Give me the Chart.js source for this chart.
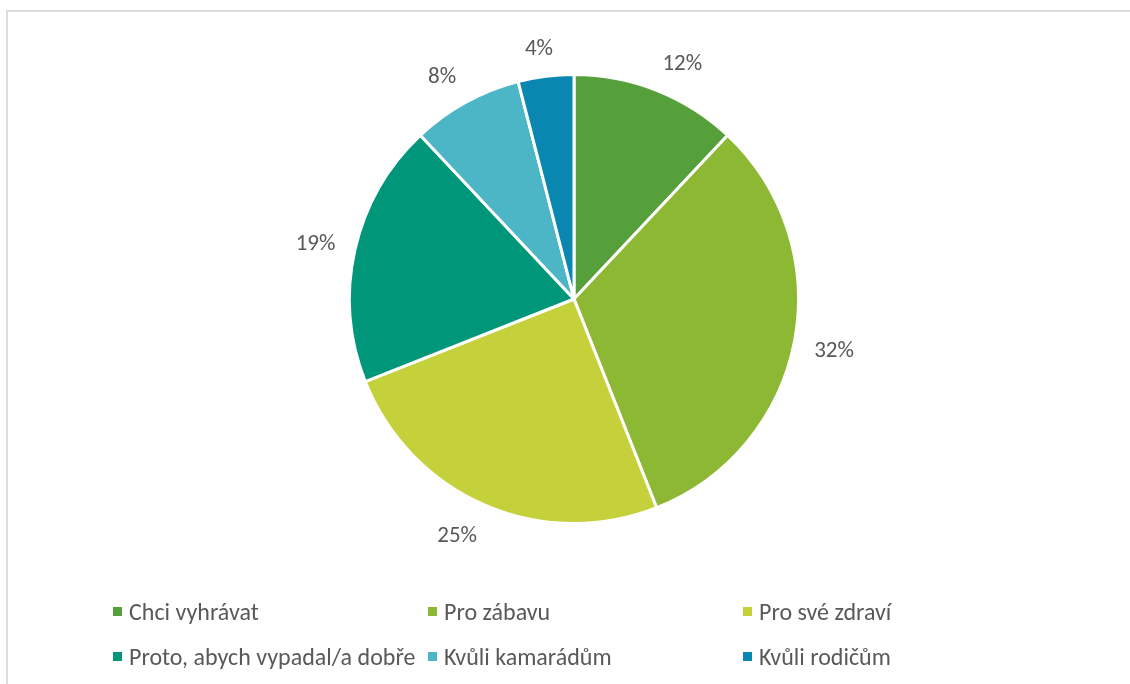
<!DOCTYPE html>
<html>
<head>
<meta charset="utf-8">
<script src="https://cdn.jsdelivr.net/npm/chart.js@4.4.0/dist/chart.umd.min.js"></script>
<style>
  html, body { margin: 0; padding: 0; background: #fff; }
  body { width: 1130px; height: 684px; position: relative; overflow: hidden;
         font-family: Carlito, Calibri, Lato, sans-serif; color: #595959; }
  #frame { position: absolute; left: 6px; top: 10px; right: -10px; bottom: -10px;
           border-left: 2px solid #dcdcdc; border-top: 2px solid #dcdcdc; }
  #wrap { position: absolute; left: 0; top: 0; width: 1130px; height: 684px; }
  #legend { position: absolute; left: 113px; top: 598px;
            display: grid; grid-template-columns: 315px 315px 315px; grid-auto-rows: 45px; }
  .item { display: flex; align-items: center; height: 26px; font-size: 24px; white-space: nowrap; }
  .box { width: 9px; height: 9px; margin-right: 7px; flex: none; }
</style>
</head>
<body>
<div id="frame"></div>
<div id="wrap"><canvas id="pie"></canvas></div>
<div id="legend"></div>
<script>
// data
const categories = ['Chci vyhrávat', 'Pro zábavu', 'Pro své zdraví',
                    'Proto, abych vypadal/a dobře', 'Kvůli kamarádům', 'Kvůli rodičům'];
const shares = [12, 32, 25, 19, 8, 4];
const sliceColors = ['#56A03B', '#8DB834', '#C4D13B', '#00967A', '#4CB6C6', '#0987B1'];

const LABEL_FONT = 23;

const clamp = v => Math.max(-1, Math.min(1, v));

// percent labels just outside each slice (box pushed off the anchor point)
const outsideLabels = {
  id: 'outsideLabels',
  afterDatasetsDraw(chart) {
    const ctx = chart.ctx;
    const meta = chart.getDatasetMeta(0);
    ctx.save();
    ctx.font = LABEL_FONT + 'px Carlito, Calibri, Lato, sans-serif';
    ctx.fillStyle = '#595959';
    ctx.textAlign = 'center';
    ctx.textBaseline = 'middle';
    meta.data.forEach((arc, i) => {
      const p = arc.getProps(['x', 'y', 'startAngle', 'endAngle', 'outerRadius'], true);
      const mid = (p.startAngle + p.endAngle) / 2;
      const text = shares[i] + '%';
      const halfW = ctx.measureText(text).width / 2;
      const halfH = 10;
      const cos = Math.cos(mid), sin = Math.sin(mid);
      const d = p.outerRadius + 20;
      const x = p.x + cos * d + clamp(cos * 2.5) * halfW;
      const y = p.y + sin * d + clamp(sin * 2) * halfH + 3;
      ctx.fillText(text, x, y);
    });
    ctx.restore();
  }
};

const canvas = document.getElementById('pie');
canvas.width = 1130;
canvas.height = 684;

new Chart(canvas.getContext('2d'), {
  type: 'pie',
  data: {
    labels: categories,
    datasets: [{
      data: shares,
      backgroundColor: sliceColors,
      borderColor: '#ffffff',
      borderWidth: 3
    }]
  },
  options: {
    responsive: false,
    animation: false,
    layout: { padding: { left: 348, right: 330, top: 73, bottom: 159 } },
    plugins: {
      legend: { display: false },
      tooltip: { enabled: false }
    }
  },
  plugins: [outsideLabels]
});

// legend in three columns, like the original
const legend = document.getElementById('legend');
categories.forEach((name, i) => {
  const el = document.createElement('div');
  el.className = 'item';
  el.innerHTML = `<span class="box" style="background:${sliceColors[i]}"></span>${name}`;
  legend.appendChild(el);
});
</script>
</body>
</html>
